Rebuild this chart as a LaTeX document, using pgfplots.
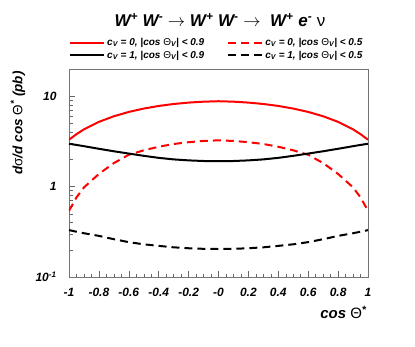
\documentclass[border=0pt]{standalone}
\usepackage{fontspec}
\setmainfont{Liberation Sans}
\usepackage{pgfplots}
\pgfplotsset{compat=1.18}
\newcommand{\gr}[1]{{\mdseries\upshape #1}}
\pgfplotstableread{
x rs bs rd bd
-1.0 3.3 2.98 0.54 0.33
-0.95 3.8 2.89 0.76 0.317
-0.9 4.3 2.80 0.98 0.305
-0.8 5.2 2.62 1.38 0.285
-0.7 6.0 2.46 1.82 0.262
-0.6 6.7 2.32 2.25 0.243
-0.5 7.3 2.19 2.52 0.230
-0.4 7.8 2.08 2.76 0.221
-0.3 8.2 2.00 2.96 0.213
-0.2 8.5 1.95 3.10 0.208
-0.1 8.7 1.92 3.20 0.205
0.0 8.8 1.91 3.25 0.204
0.1 8.7 1.92 3.20 0.205
0.2 8.5 1.95 3.10 0.208
0.3 8.2 2.00 2.96 0.213
0.4 7.8 2.08 2.76 0.221
0.5 7.3 2.19 2.52 0.230
0.6 6.7 2.32 2.25 0.243
0.7 6.0 2.46 1.82 0.262
0.8 5.2 2.62 1.38 0.285
0.9 4.3 2.80 0.98 0.305
0.95 3.8 2.89 0.76 0.317
1.0 3.3 2.98 0.54 0.33
}\datatable
\begin{document}
\begin{tikzpicture}
\useasboundingbox (0pt,0pt) rectangle (415pt,346pt);
\begin{axis}[
  at={(69pt,69pt)}, anchor=south west,
  scale only axis, width=299pt, height=208pt,
  xmin=-1, xmax=1, ymode=log, ymin=0.1, ymax=20,
  axis line style={black!55, line width=0.6pt},
  tick style={black!60, line width=0.5pt},
  tick align=inside, xtick pos=bottom, ytick pos=left,
  xtick={-1,-0.8,-0.6,-0.4,-0.2,0,0.2,0.4,0.6,0.8,1},
  xticklabels={-1,-0.8,-0.6,-0.4,-0.2,-0,0.2,0.4,0.6,0.8,1},
  minor x tick num=3,
  ytick={0.1,1,10}, yticklabels={10\textsuperscript{-1},1,10},
  minor ytick={0.2,0.3,0.4,0.5,0.6,0.7,0.8,0.9,2,3,4,5,6,7,8,9,20},
  major tick length=6pt, minor tick length=3.5pt,
  ticklabel style={font=\fontsize{12}{12}\selectfont\bfseries\itshape},
  xticklabel style={yshift=-8pt},
  yticklabel style={xshift=-9pt},
  xlabel={cos \gr{Θ}\textsuperscript{*}},
  xlabel style={at={(axis description cs:1.007,-0.125)}, anchor=north east, font=\fontsize{15}{15}\selectfont\bfseries\itshape},
  ylabel={d\gr{σ}/d cos \gr{Θ}\textsuperscript{*} (pb)},
  ylabel style={at={(axis description cs:-0.171,1.005)}, anchor=east, font=\fontsize{13.5}{13.5}\selectfont\bfseries\itshape},
  legend columns=2,
  legend cell align=left,
  legend image code/.code={\draw[#1] (0pt,0pt) -- (34pt,0pt);},
  legend style={draw=none, fill=none, at={(axis description cs:-0.01,1.168)}, anchor=north west,
    font=\fontsize{10}{12}\selectfont\bfseries\itshape,
    /tikz/every even column/.append style={column sep=21pt}},
]
\addplot[red, line width=2pt] table[x=x,y=rs] {\datatable};
\addlegendentry{c\textsubscript{V} = 0, |cos \gr{Θ}\textsubscript{V}| < 0.9}
\addplot[red, line width=2pt, dash pattern=on 8pt off 5pt] table[x=x,y=rd] {\datatable};
\addlegendentry{c\textsubscript{V} = 0, |cos \gr{Θ}\textsubscript{V}| < 0.5}
\addplot[black, line width=2pt] table[x=x,y=bs] {\datatable};
\addlegendentry{c\textsubscript{V} = 1, |cos \gr{Θ}\textsubscript{V}| < 0.9}
\addplot[black, line width=2pt, dash pattern=on 8pt off 5pt] table[x=x,y=bd] {\datatable};
\addlegendentry{c\textsubscript{V} = 1, |cos \gr{Θ}\textsubscript{V}| < 0.5}
\end{axis}
\node[font=\fontsize{17}{17}\selectfont\bfseries\itshape] at (220pt,326pt)
  {W\textsuperscript{+} W\textsuperscript{-} $\rightarrow$ W\textsuperscript{+} W\textsuperscript{-} $\rightarrow$\ \ W\textsuperscript{+} e\textsuperscript{-} \gr{ν}};
\end{tikzpicture}
\end{document}
